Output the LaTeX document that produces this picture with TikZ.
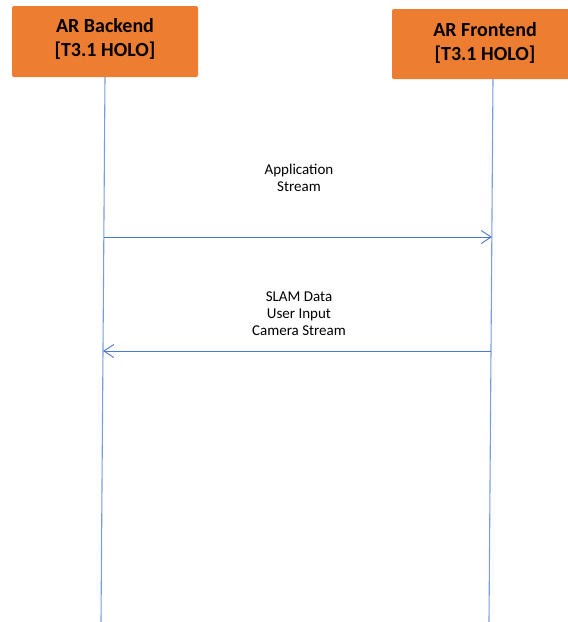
\documentclass[tikz,border=0pt]{standalone}
\usepackage{fontspec}
\setmainfont{Carlito}
\usetikzlibrary{arrows.meta}
\definecolor{boxorange}{HTML}{ED7D31}
\definecolor{lineblue}{HTML}{4A78D0}
\definecolor{lifeblue}{HTML}{7A9DE0}
\begin{document}
\begin{tikzpicture}[x=1pt,y=-1pt,
  actor/.style={fill=boxorange,draw=none,rounded corners=2pt,inner sep=0pt},
  actortext/.style={align=center,inner sep=0pt,font=\fontsize{20}{24}\selectfont\bfseries},
  lifeline/.style={draw=lifeblue,line width=1.1pt},
  msg/.style={draw=lineblue,line width=0.9pt,-{Straight Barb[length=10pt,width=13pt,line width=0.9pt]}},
  lbl/.style={align=center,inner sep=0pt,font=\fontsize{15}{17}\selectfont}]
\useasboundingbox (0,0) rectangle (568,622);
\node[actor,minimum width=186pt,minimum height=71pt] (be) at (105,41.5) {};
\node[actor,minimum width=178pt,minimum height=70pt] (fe) at (481,44) {};
\node[actortext] (bet) at (105,38.5) {AR Backend\\{}[T3.1 HOLO]};
\node[actortext] (fet) at (485,42.5) {AR Frontend\\{}[T3.1 HOLO]};
\coordinate (beb) at (101,622);
\coordinate (fetop) at (493,79);
\coordinate (feb) at (489,622);
\draw[lifeline] (be.south) -- (beb);
\draw[lifeline] (fetop) -- (feb);
\coordinate (a1s) at (104,237);
\coordinate (a1e) at (492,237);
\coordinate (a2s) at (491,351);
\coordinate (a2e) at (103,351);
\draw[msg] (a1s) -- (a1e);
\draw[msg] (a2s) -- (a2e);
\node[lbl] (l1) at (299,178) {Application\\Stream};
\node[lbl] (l2) at (299,314) {SLAM Data\\User Input\\Camera Stream};
\end{tikzpicture}
\end{document}
